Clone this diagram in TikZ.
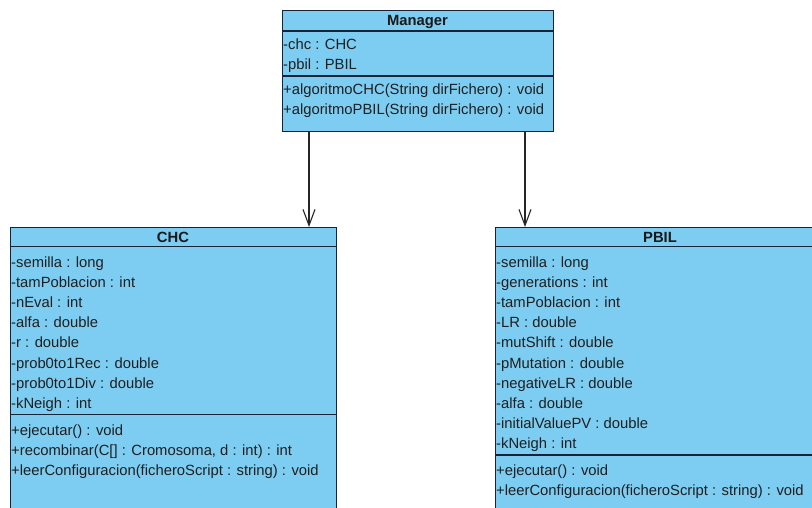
\documentclass[tikz,border=0pt]{standalone}
\usepackage{fontspec}
\setmainfont{Liberation Sans}
\usetikzlibrary{arrows.meta}
\definecolor{umlfill}{RGB}{125,205,242}
\definecolor{umlline}{RGB}{25,35,55}
\begin{document}
\begin{tikzpicture}[x=1pt,y=-1pt,
  classbox/.style={draw=umlline, fill=umlfill, line width=1.3pt, rectangle, inner sep=0pt, anchor=north west},
  member/.style={anchor=base west, inner sep=0pt, font=\fontsize{14.8}{17}\selectfont, text=black!88},
  ctitle/.style={anchor=base, inner sep=0pt, font=\fontsize{14.8}{17}\selectfont\bfseries, text=black!90},
  sepline/.style={draw=umlline, line width=1.3pt},
  assoc/.style={draw=black!85, line width=1.1pt, -{Straight Barb[length=16pt,width=12pt,line width=1.1pt]}}]
\useasboundingbox (0,0) rectangle (812,508);
\fill[white] (0,0) rectangle (812,508);
\begin{scope}
\clip (0,0) rectangle (812,508);
% Manager
\node[classbox, minimum width=271pt, minimum height=121pt] (mgr) at (282,10) {};
\draw[sepline] ([yshift=-21pt]mgr.north west) -- ([yshift=-21pt]mgr.north east);
\draw[sepline] ([yshift=-66pt]mgr.north west) -- ([yshift=-66pt]mgr.north east);
\node[ctitle] (mgrt) at (417.5,25.5) {Manager};
\node[member] (mgra1) at (283,49.5) {-chc : CHC};
\node[member] (mgra2) at (283,69.5) {-pbil : PBIL};
\node[member] (mgro1) at (283,94.5) {+algoritmoCHC(String dirFichero) : void};
\node[member] (mgro2) at (283,114.5) {+algoritmoPBIL(String dirFichero) : void};
% CHC
\node[classbox, minimum width=326pt, minimum height=300pt] (chc) at (10,227) {};
\draw[sepline] ([yshift=-19.5pt]chc.north west) -- ([yshift=-19.5pt]chc.north east);
\draw[sepline] ([yshift=-187.5pt]chc.north west) -- ([yshift=-187.5pt]chc.north east);
\node[ctitle] (chct) at (173,242) {CHC};
\node[member] (chca1) at (11,267) {-semilla : long};
\node[member] (chca2) at (11,287.2) {-tamPoblacion : int};
\node[member] (chca3) at (11,307.4) {-nEval : int};
\node[member] (chca4) at (11,327.6) {-alfa : double};
\node[member] (chca5) at (11,347.8) {-r : double};
\node[member] (chca6) at (11,368) {-prob0to1Rec : double};
\node[member] (chca7) at (11,388.2) {-prob0to1Div : double};
\node[member] (chca8) at (11,408.4) {-kNeigh : int};
\node[member] (chco1) at (11,435) {+ejecutar() : void};
\node[member] (chco2) at (11,455.2) {+recombinar(C[] : Cromosoma, d : int) : int};
\node[member] (chco3) at (11,475.4) {+leerConfiguracion(ficheroScript : string) : void};
% PBIL
\node[classbox, minimum width=330pt, minimum height=300pt] (pbil) at (495,227) {};
\draw[sepline] ([yshift=-19.5pt]pbil.north west) -- ([yshift=-19.5pt]pbil.north east);
\draw[sepline] ([yshift=-228pt]pbil.north west) -- ([yshift=-228pt]pbil.north east);
\node[ctitle] (pbilt) at (660,242) {PBIL};
\node[member] (pbila1) at (496,267) {-semilla : long};
\node[member] (pbila2) at (496,287.2) {-generations : int};
\node[member] (pbila3) at (496,307.4) {-tamPoblacion : int};
\node[member] (pbila4) at (496,327.6) {-LR : double};
\node[member] (pbila5) at (496,347.8) {-mutShift : double};
\node[member] (pbila6) at (496,368) {-pMutation : double};
\node[member] (pbila7) at (496,388.2) {-negativeLR : double};
\node[member] (pbila8) at (496,408.4) {-alfa : double};
\node[member] (pbila9) at (496,428.6) {-initialValuePV : double};
\node[member] (pbila10) at (496,448.8) {-kNeigh : int};
\node[member] (pbilo1) at (496,475.4) {+ejecutar() : void};
\node[member] (pbilo2) at (496,495.6) {+leerConfiguracion(ficheroScript : string) : void};
% associations
\coordinate (s1) at ([xshift=27pt]mgr.south west);
\coordinate (s2) at ([xshift=243pt]mgr.south west);
\draw[assoc] (s1) -- (s1 |- chc.north);
\draw[assoc] (s2) -- (s2 |- pbil.north);
\end{scope}
\end{tikzpicture}
\end{document}
